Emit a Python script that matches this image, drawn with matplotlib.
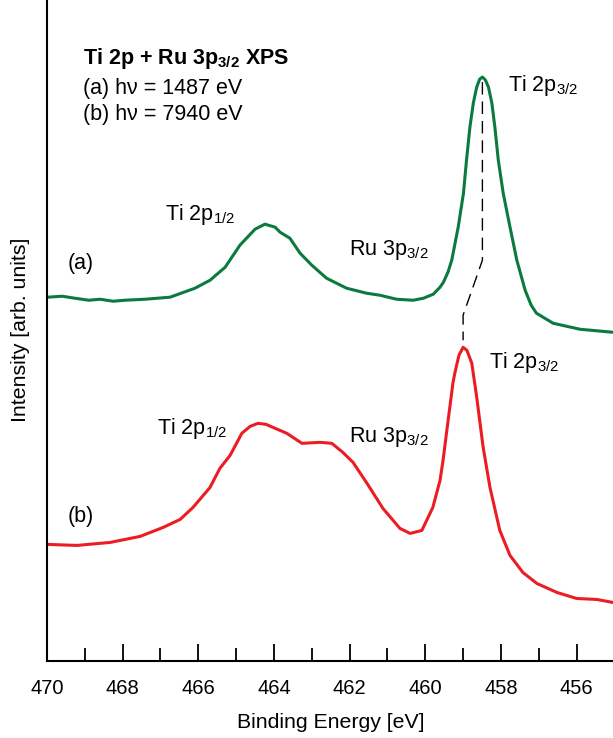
import numpy as np
import matplotlib
matplotlib.use('Agg')
import matplotlib.pyplot as plt

plt.rcParams['font.family'] = ['Liberation Sans', 'DejaVu Sans']
plt.rcParams['mathtext.fontset'] = 'custom'
plt.rcParams['mathtext.rm'] = 'Liberation Sans'
plt.rcParams['mathtext.it'] = 'Liberation Sans'
plt.rcParams['mathtext.bf'] = 'Liberation Sans:bold'

# spectrum (a), hv = 1487 eV: binding energy [eV], intensity [arb. units]
energy_a = [470.0, 469.6, 469.26, 468.9, 468.6, 468.25, 467.94, 467.41, 466.75,
            466.09, 465.69, 465.29, 464.9, 464.5, 464.24, 463.97, 463.84, 463.58,
            463.31, 463.0, 462.61, 462.08, 461.55, 461.2, 460.76, 460.32, 460.05,
            459.79, 459.61, 459.52, 459.4, 459.3, 459.13, 458.99, 458.91, 458.82,
            458.73, 458.64, 458.56, 458.49, 458.41, 458.33, 458.24, 458.16, 458.07,
            457.94, 457.76, 457.58, 457.36, 457.2, 457.06, 456.62, 455.91, 455.04]
int_a = [363, 364, 362, 360, 361, 359, 360, 361, 363,
         372, 380, 393, 415, 431, 436, 433, 428, 422,
         407, 395, 382, 372, 367, 365, 361, 360, 362,
         366, 373, 378, 388, 400, 433, 467, 500, 533,
         557, 573, 581, 583, 580, 573, 557, 533, 500,
         467, 433, 400, 370, 355, 347, 337, 331, 328]

# spectrum (b), hv = 7940 eV
energy_b = [469.97, 469.21, 468.33, 467.54, 466.93, 466.48, 466.14, 465.69, 465.43,
            465.16, 464.85, 464.63, 464.42, 464.21, 464.03, 463.66, 463.26, 462.78,
            462.47, 462.18, 461.91, 461.54, 461.12, 460.67, 460.4, 460.09, 459.8,
            459.61, 459.53, 459.43, 459.27, 459.22, 459.11, 459.0, 458.9, 458.77,
            458.64, 458.47, 458.29, 458.03, 457.76, 457.42, 457.05, 456.52, 456.0,
            455.46, 455.04]
int_b = [116, 115, 118, 124, 133, 141, 153, 173, 192,
         205, 227, 234, 237, 236, 233, 227, 217, 218,
         217, 208, 198, 177, 152, 132, 127, 130, 153,
         180, 200, 230, 277, 287, 305, 313, 310, 297,
         263, 213, 173, 130, 105, 88, 77, 68, 62,
         61, 58]

# dashed guide between the two Ti 2p3/2 maxima
guide_e = [458.49, 458.49, 459.0, 459.0]
guide_i = [578, 400, 345, 320]

fig = plt.figure(figsize=(6.13, 7.38), dpi=100)
ax = fig.add_axes([0.0767, 0.105, 0.9256, 0.895])

ax.plot(energy_a, int_a, color='#0b7a3e', lw=2.2, solid_joinstyle='round')
ax.plot(energy_b, int_b, color='#ec1c24', lw=2.2, solid_joinstyle='round')
ax.plot(guide_e, guide_i, color='black', lw=1.0, dashes=(9, 5))

ax.set_xlim(470, 455)
ax.set_ylim(0, 660)
ax.set_xticks(np.arange(470, 455, -2))
ax.set_xticks(np.arange(469, 455, -2), minor=True)
ax.set_yticks([])
ax.tick_params(axis='x', which='major', direction='in', length=12.5, width=1.3,
               labelsize=14.5, pad=13)
ax.tick_params(axis='x', which='minor', direction='in', length=9.5, width=1.3)
for s in ['top', 'right']:
    ax.spines[s].set_visible(False)
for s in ['left', 'bottom']:
    ax.spines[s].set_linewidth(1.5)

ax.set_xlabel('Binding Energy [eV]', fontsize=15.3, labelpad=11)
ax.set_ylabel('Intensity [arb. units]', fontsize=15.3, labelpad=12)

fs = 15.5
ax.text(469.05, 602, r'Ti 2p + Ru 3p$_{\mathbf{3/2}}$ XPS', fontsize=fs,
        fontweight='bold', va='center')
ax.text(469.05, 572, '(a) h\u03bd = 1487 eV', fontsize=fs, va='center')
ax.text(469.05, 546, '(b) h\u03bd = 7940 eV', fontsize=fs, va='center')

ax.text(457.81, 575, r'Ti 2p$_{3/2}$', fontsize=fs, va='center')
ax.text(466.88, 446, r'Ti 2p$_{1/2}$', fontsize=fs, va='center')
ax.text(462.02, 410, r'Ru 3p$_{3/2}$', fontsize=fs, va='center')
ax.text(469.45, 397, '(a)', fontsize=fs, va='center')

ax.text(458.32, 298, r'Ti 2p$_{3/2}$', fontsize=fs, va='center')
ax.text(467.09, 232, r'Ti 2p$_{1/2}$', fontsize=fs, va='center')
ax.text(462.02, 223, r'Ru 3p$_{3/2}$', fontsize=fs, va='center')
ax.text(469.45, 144, '(b)', fontsize=fs, va='center')

fig.savefig('out.png', dpi=100)
